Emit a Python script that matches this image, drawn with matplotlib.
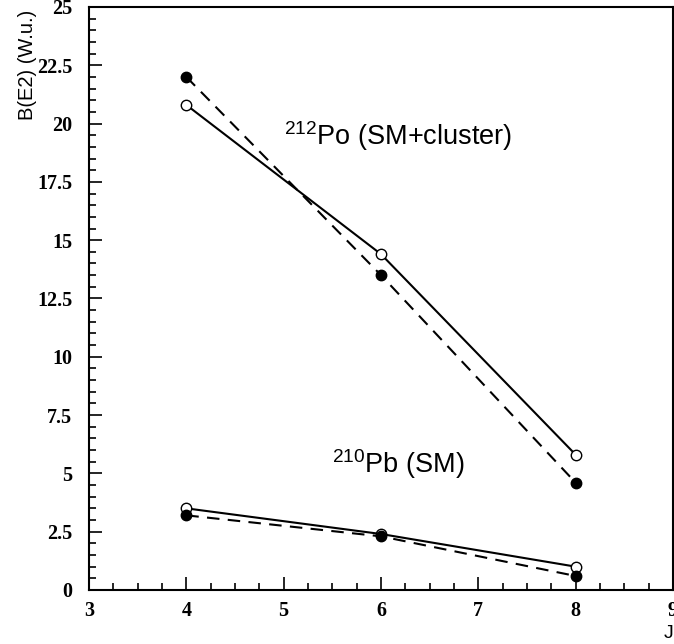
import numpy as np
import matplotlib.pyplot as plt
from matplotlib.ticker import MultipleLocator, FuncFormatter

# angular momentum J
J = [4, 6, 8]

# 212Po (SM+cluster): solid = open circles, dashed = filled circles
po_open = [20.8, 14.4, 5.8]
po_filled = [22.0, 13.5, 4.6]

# 210Pb (SM)
pb_open = [3.5, 2.4, 1.0]
pb_filled = [3.2, 2.3, 0.6]

plt.rcParams['mathtext.fontset'] = 'custom'
plt.rcParams['mathtext.rm'] = 'Liberation Sans'
plt.rcParams['mathtext.it'] = 'Liberation Sans'

fig = plt.figure(figsize=(6.74, 6.44), dpi=100)
ax = fig.add_axes([0.132, 0.0839, 0.8665, 0.9053])

for opn, fil in [(po_open, po_filled), (pb_open, pb_filled)]:
    ax.plot(J, opn, '-', color='black', lw=1.5, marker='o', ms=7.5,
            mfc='white', mec='black', mew=1.0)
    ax.plot(J, fil, '--', color='black', lw=1.5, dashes=(6, 4), marker='o',
            ms=7.5, mfc='black', mec='black')

ax.set_xlim(3, 9)
ax.set_ylim(0, 25)
ax.xaxis.set_major_locator(MultipleLocator(1))
ax.xaxis.set_minor_locator(MultipleLocator(0.25))
ax.yaxis.set_major_locator(MultipleLocator(2.5))
ax.yaxis.set_minor_locator(MultipleLocator(0.5))
ax.yaxis.set_major_formatter(FuncFormatter(lambda v, p: '%g' % v))
ax.tick_params(which='both', direction='in', top=False, right=False, width=1.2)
ax.tick_params(which='major', length=9.5)
ax.tick_params(which='minor', length=4.8)
ax.tick_params(axis='y', pad=12)
ax.tick_params(axis='x', pad=8)
for lab in ax.get_xticklabels() + ax.get_yticklabels():
    lab.set_fontfamily('Liberation Serif')
    lab.set_fontweight('bold')
    lab.set_fontsize(14.5)
for sp in ax.spines.values():
    sp.set_linewidth(1.5)

ax.set_ylabel('B(E2) (W.u.)', fontsize=14.5, family='Liberation Sans', loc='top')
ax.yaxis.set_label_coords(-0.089, 0.995)
ax.set_xlabel('J', fontsize=14, family='Liberation Sans', loc='right')
ax.xaxis.set_label_coords(1.0, -0.06)

ax.text(5.0, 19.1, r'$^{212}$Po (SM+cluster)', fontsize=19.5, family='Liberation Sans')
ax.text(5.5, 5.0, r'$^{210}$Pb (SM)', fontsize=19.5, family='Liberation Sans')

fig.savefig('out.png', dpi=100)
